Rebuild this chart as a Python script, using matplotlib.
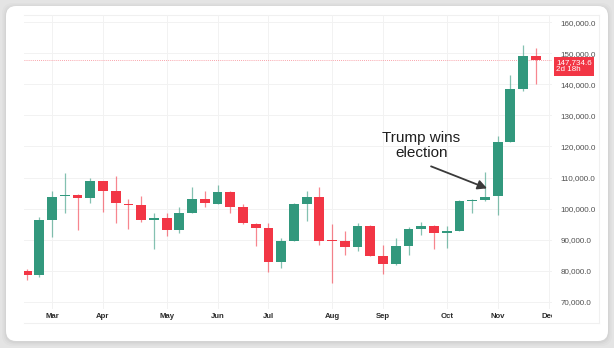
import matplotlib
matplotlib.use('Agg')
import matplotlib.pyplot as plt
import matplotlib.patches as mpatches
import matplotlib.transforms as mtransforms
from matplotlib.lines import Line2D
import pandas as pd

# weekly OHLC, one bar per week starting Monday 2024-02-19
weeks = pd.date_range('2024-02-19', periods=41, freq='7D')
opens = [79750, 78600, 96400, 103900, 104300, 103300, 108900, 105700, 101600, 101000,
         96400, 96900, 93000, 98600, 103200, 101600, 105300, 100600, 95000, 93600,
         82800, 89600, 101500, 103800, 89700, 89400, 87500, 94500, 84800, 82200,
         87800, 93300, 94500, 92200, 92900, 102400, 102600, 104000, 121400, 138400,
         149100]
highs = [80500, 97400, 105700, 111500, 104800, 109700, 109000, 110400, 103200, 104000,
         98400, 98400, 100600, 106900, 105800, 107700, 105500, 101400, 95200, 95400,
         90400, 101800, 105600, 106800, 94900, 92800, 95300, 94600, 88200, 90400,
         93900, 95700, 94600, 94500, 102800, 103100, 111900, 123300, 143100, 152700,
         151600]
lows = [77000, 78000, 90800, 98600, 93100, 101900, 98900, 95300, 93400, 95700,
        87100, 91100, 92100, 98500, 100400, 101500, 98400, 95100, 87800, 79500,
        80700, 89500, 96000, 88200, 76000, 85000, 86400, 84700, 78900, 81900,
        85100, 91500, 87100, 87400, 92800, 98600, 102400, 97900, 121300, 138000,
        140300]
closes = [78600, 96400, 103600, 104300, 103300, 108900, 105700, 101800, 101000, 96400,
          96900, 93000, 98600, 103200, 101800, 105300, 100600, 95200, 93700, 82800,
          89600, 101500, 103800, 89400, 89400, 87500, 94500, 84800, 82200, 87800,
          93300, 94500, 92100, 92900, 102400, 102800, 103800, 121400, 138400, 149100,
          147734.6]

month_ticks = pd.to_datetime(['2024-03-04', '2024-04-01', '2024-05-06', '2024-06-03',
                              '2024-07-01', '2024-08-05', '2024-09-02', '2024-10-07',
                              '2024-11-04', '2024-12-02'])
month_labels = ['Mar', 'Apr', 'May', 'Jun', 'Jul', 'Aug', 'Sep', 'Oct', 'Nov', 'Dec']
price_ticks = [70000, 80000, 90000, 100000, 110000, 120000, 130000, 140000, 150000, 160000]

last_price = closes[-1]
countdown = '2d 18h'
event_label = 'Trump wins\nelection'

UP = '#32987d'
DOWN = '#f23645'

plt.rcParams['font.family'] = ['Liberation Sans', 'DejaVu Sans']

fig = plt.figure(figsize=(6.14, 3.48), dpi=100)
fig.patch.set_facecolor('#e4e4e4')
px = mtransforms.IdentityTransform()

# card with soft shadow
for grow, alpha in [(4, 0.05), (2.5, 0.07), (1.2, 0.1)]:
    fig.patches.append(mpatches.FancyBboxPatch(
        (6 - grow, 7 - grow - 1), 602 + 2 * grow, 335 + 2 * grow,
        boxstyle='round,pad=0,rounding_size=11', transform=px,
        fc='#9a9a9a', ec='none', alpha=alpha, zorder=0))
fig.patches.append(mpatches.FancyBboxPatch(
    (6, 7), 602, 335, boxstyle='round,pad=0,rounding_size=10', transform=px,
    fc='white', ec='none', zorder=1))

# pane border (top, right, bottom)
for xs, ys in [([24, 599], [333, 333]), ([599, 599], [25, 333]), ([24, 599], [25, 25])]:
    fig.lines.append(Line2D(xs, ys, transform=px, color='#f0f0f0', lw=0.8, zorder=2))

ax = fig.add_axes([23.5 / 614, 39 / 348, 528.5 / 614, 294 / 348])
ax.set_facecolor('none')
ax.set_zorder(3)

colors = [UP if c >= o else DOWN for o, c in zip(opens, closes)]
bottoms = [min(o, c) for o, c in zip(opens, closes)]
heights = [max(abs(c - o), 250) for o, c in zip(opens, closes)]

ax.vlines(weeks, lows, highs, colors=colors, lw=0.9, alpha=0.6, zorder=3)
ax.bar(weeks, heights, bottom=bottoms, width=5.4, color=colors, lw=0, zorder=4)

ax.axhline(last_price, color=DOWN, lw=0.6, ls=(0, (1, 1.5)), alpha=0.6, zorder=2)

ax.set_xlim(weeks[0] - pd.Timedelta(days=1.7), weeks[-1] + pd.Timedelta(days=8.9))
ax.set_ylim(67600, 162400)

ax.set_xticks(month_ticks)
ax.set_yticks(price_ticks)
ax.set_yticklabels([f'{v:,.1f}' for v in price_ticks])
ax.yaxis.tick_right()
ax.tick_params(axis='y', length=0, pad=6, labelsize=5.8, labelcolor='#505050')
ax.tick_params(axis='x', length=0, labelbottom=False)
ax.grid(True, color='#f2f2f2', lw=0.7, zorder=0)
for s in ax.spines.values():
    s.set_visible(False)

# month labels, clipped at the price scale like the last one
clip = mtransforms.TransformedBbox(mtransforms.Bbox([[0, -0.2], [1, 1]]), ax.transAxes)
xform = mtransforms.blended_transform_factory(ax.transData, ax.transAxes)
for d, lab in zip(month_ticks, month_labels):
    t = ax.text(d, -0.027, lab, transform=xform, ha='center', va='center',
                fontsize=5.6, fontweight='bold', color='#2a2a2a', clip_on=True)
    t.set_clip_box(clip)

# last price tag on the scale
ax.annotate(f'{last_price:,.1f}\n{countdown}', xy=(1, last_price),
            xycoords=('axes fraction', 'data'), xytext=(4, 1.5),
            textcoords='offset pixels', ha='left', va='top', color='white',
            fontsize=5.8, linespacing=1.05, annotation_clip=False, zorder=6,
            bbox=dict(boxstyle='square,pad=0.3', fc=DOWN, ec='none'))

# event note
ax.text(weeks[31], 120400, event_label, ha='center', va='center', fontsize=11,
        multialignment='center', color='#1e1e1e', linespacing=1.05, zorder=6)
ax.annotate('', xy=(weeks[36] + pd.Timedelta(days=1.2), 106500),
            xytext=(weeks[31] + pd.Timedelta(days=5.4), 113600),
            arrowprops=dict(arrowstyle='-|>,head_length=0.55,head_width=0.28',
                            color='#3a3a3a', lw=1.3, shrinkA=0, shrinkB=0),
            zorder=6)

fig.savefig('out.png', dpi=100, facecolor=fig.get_facecolor())
